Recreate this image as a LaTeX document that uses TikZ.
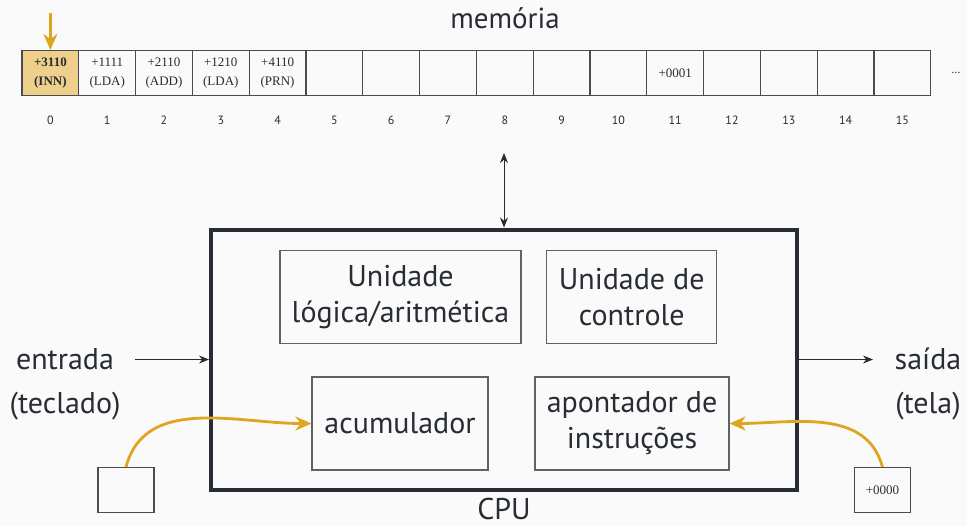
\documentclass[tikz,border=0pt]{standalone}
\usepackage{fontspec}
\setmainfont{PT Sans}
\newfontfamily\cellfont{Liberation Serif}
\usetikzlibrary{arrows.meta,positioning}

\definecolor{ink}{RGB}{40,44,52}
\definecolor{gold}{RGB}{222,165,30}
\definecolor{goldfill}{RGB}{238,208,140}
\definecolor{paper}{RGB}{250,250,250}

\tikzset{
  cell/.style={draw=ink!85, line width=0.6pt, minimum width=28.4pt,
    minimum height=22.5pt, inner sep=0pt, align=center, text=ink,
    font=\cellfont\fontsize{6.5}{9.5}\selectfont},
  idx/.style={text=ink, font=\fontsize{6}{7}\selectfont},
  unit/.style={draw=ink!75, line width=0.6pt, inner sep=0pt, align=center,
    text=ink, font=\fontsize{15}{18}\selectfont},
  iotext/.style={text=ink, align=center, font=\fontsize{15}{22}\selectfont},
  flow/.style={-{Stealth[length=5pt,width=4pt]}, draw=ink, line width=0.5pt},
  feed/.style={-{Stealth[length=8pt,width=7pt]}, draw=gold, line width=1.4pt},
}

\begin{document}
\begin{tikzpicture}[x=0.5pt,y=-0.5pt]
  \fill[paper] (0,0) rectangle (967,526);
  \useasboundingbox (0,0) rectangle (967,526);

  % memory
  \node[iotext, font=\fontsize{14.5}{16}\selectfont] (memtitle) at (505,18) {memória};
  \node[cell, fill=goldfill, font=\cellfont\bfseries\fontsize{6.5}{9.5}\selectfont] (m0) at (50.4,73) {+3110\\(INN)};
  \node[idx] at (50.4,120) {0};
  \foreach \txt [count=\n from 1] in {{+1111\\(LDA)}, {+2110\\(ADD)}, {+1210\\(LDA)},
      {+4110\\(PRN)}, {}, {}, {}, {}, {}, {}, {+0001}, {}, {}, {}, {}} {
    \node[cell] (m\n) at ({50.4+56.8*\n},73) {\txt};
    \node[idx] at ({50.4+56.8*\n},120) {\n};
  }
  \node[idx] (more) at (956,73) {\dots};

  % pointer to the current cell
  \coordinate (ptr) at (50.4,13);
  \draw[feed] (ptr) -- (m0.north);

  % CPU
  \node[draw=ink, line width=2pt, minimum width=293pt, minimum height=130pt,
    inner sep=0pt] (cpu) at (504,359.5) {};
  \node[iotext, anchor=base, inner sep=0pt] (cpulabel) at (504,519) {CPU};
  \node[unit, minimum width=120.5pt, minimum height=46.5pt] (alu) at (400.5,297) {Unidade\\lógica/aritmética};
  \node[unit, minimum width=85pt, minimum height=46.5pt] (ctrl) at (631.7,297) {Unidade de\\controle};
  \node[unit, minimum width=88pt, minimum height=46.5pt] (acc) at (400,423.5) {acumulador};
  \node[unit, minimum width=97pt, minimum height=46.5pt] (pc) at (632,423.5) {apontador de\\instruções};

  % memory bus
  \coordinate (bus) at (504,153);
  \draw[flow, {Stealth[length=5pt,width=4pt]}-{Stealth[length=5pt,width=4pt]}] (bus) -- (cpu.north);

  % input / output
  \node[iotext] (in) at (65,384) {entrada\\(teclado)};
  \node[iotext] (out) at (928,384) {saída\\(tela)};
  \coordinate (inA) at (135,359.5);
  \coordinate (outB) at (873,359.5);
  \draw[flow] (inA) -- (cpu.west);
  \draw[flow] (cpu.east) -- (outB);

  % registers fed from outside
  \node[cell, minimum width=28pt] (inbox) at (126,490) {};
  \node[cell, minimum width=28pt] (outbox) at (882.4,490) {+0000};
  \draw[feed] (inbox.north) to[out=75,in=180] (acc.west);
  \draw[feed] (outbox.north) to[out=105,in=0] (pc.east);
\end{tikzpicture}
\end{document}
